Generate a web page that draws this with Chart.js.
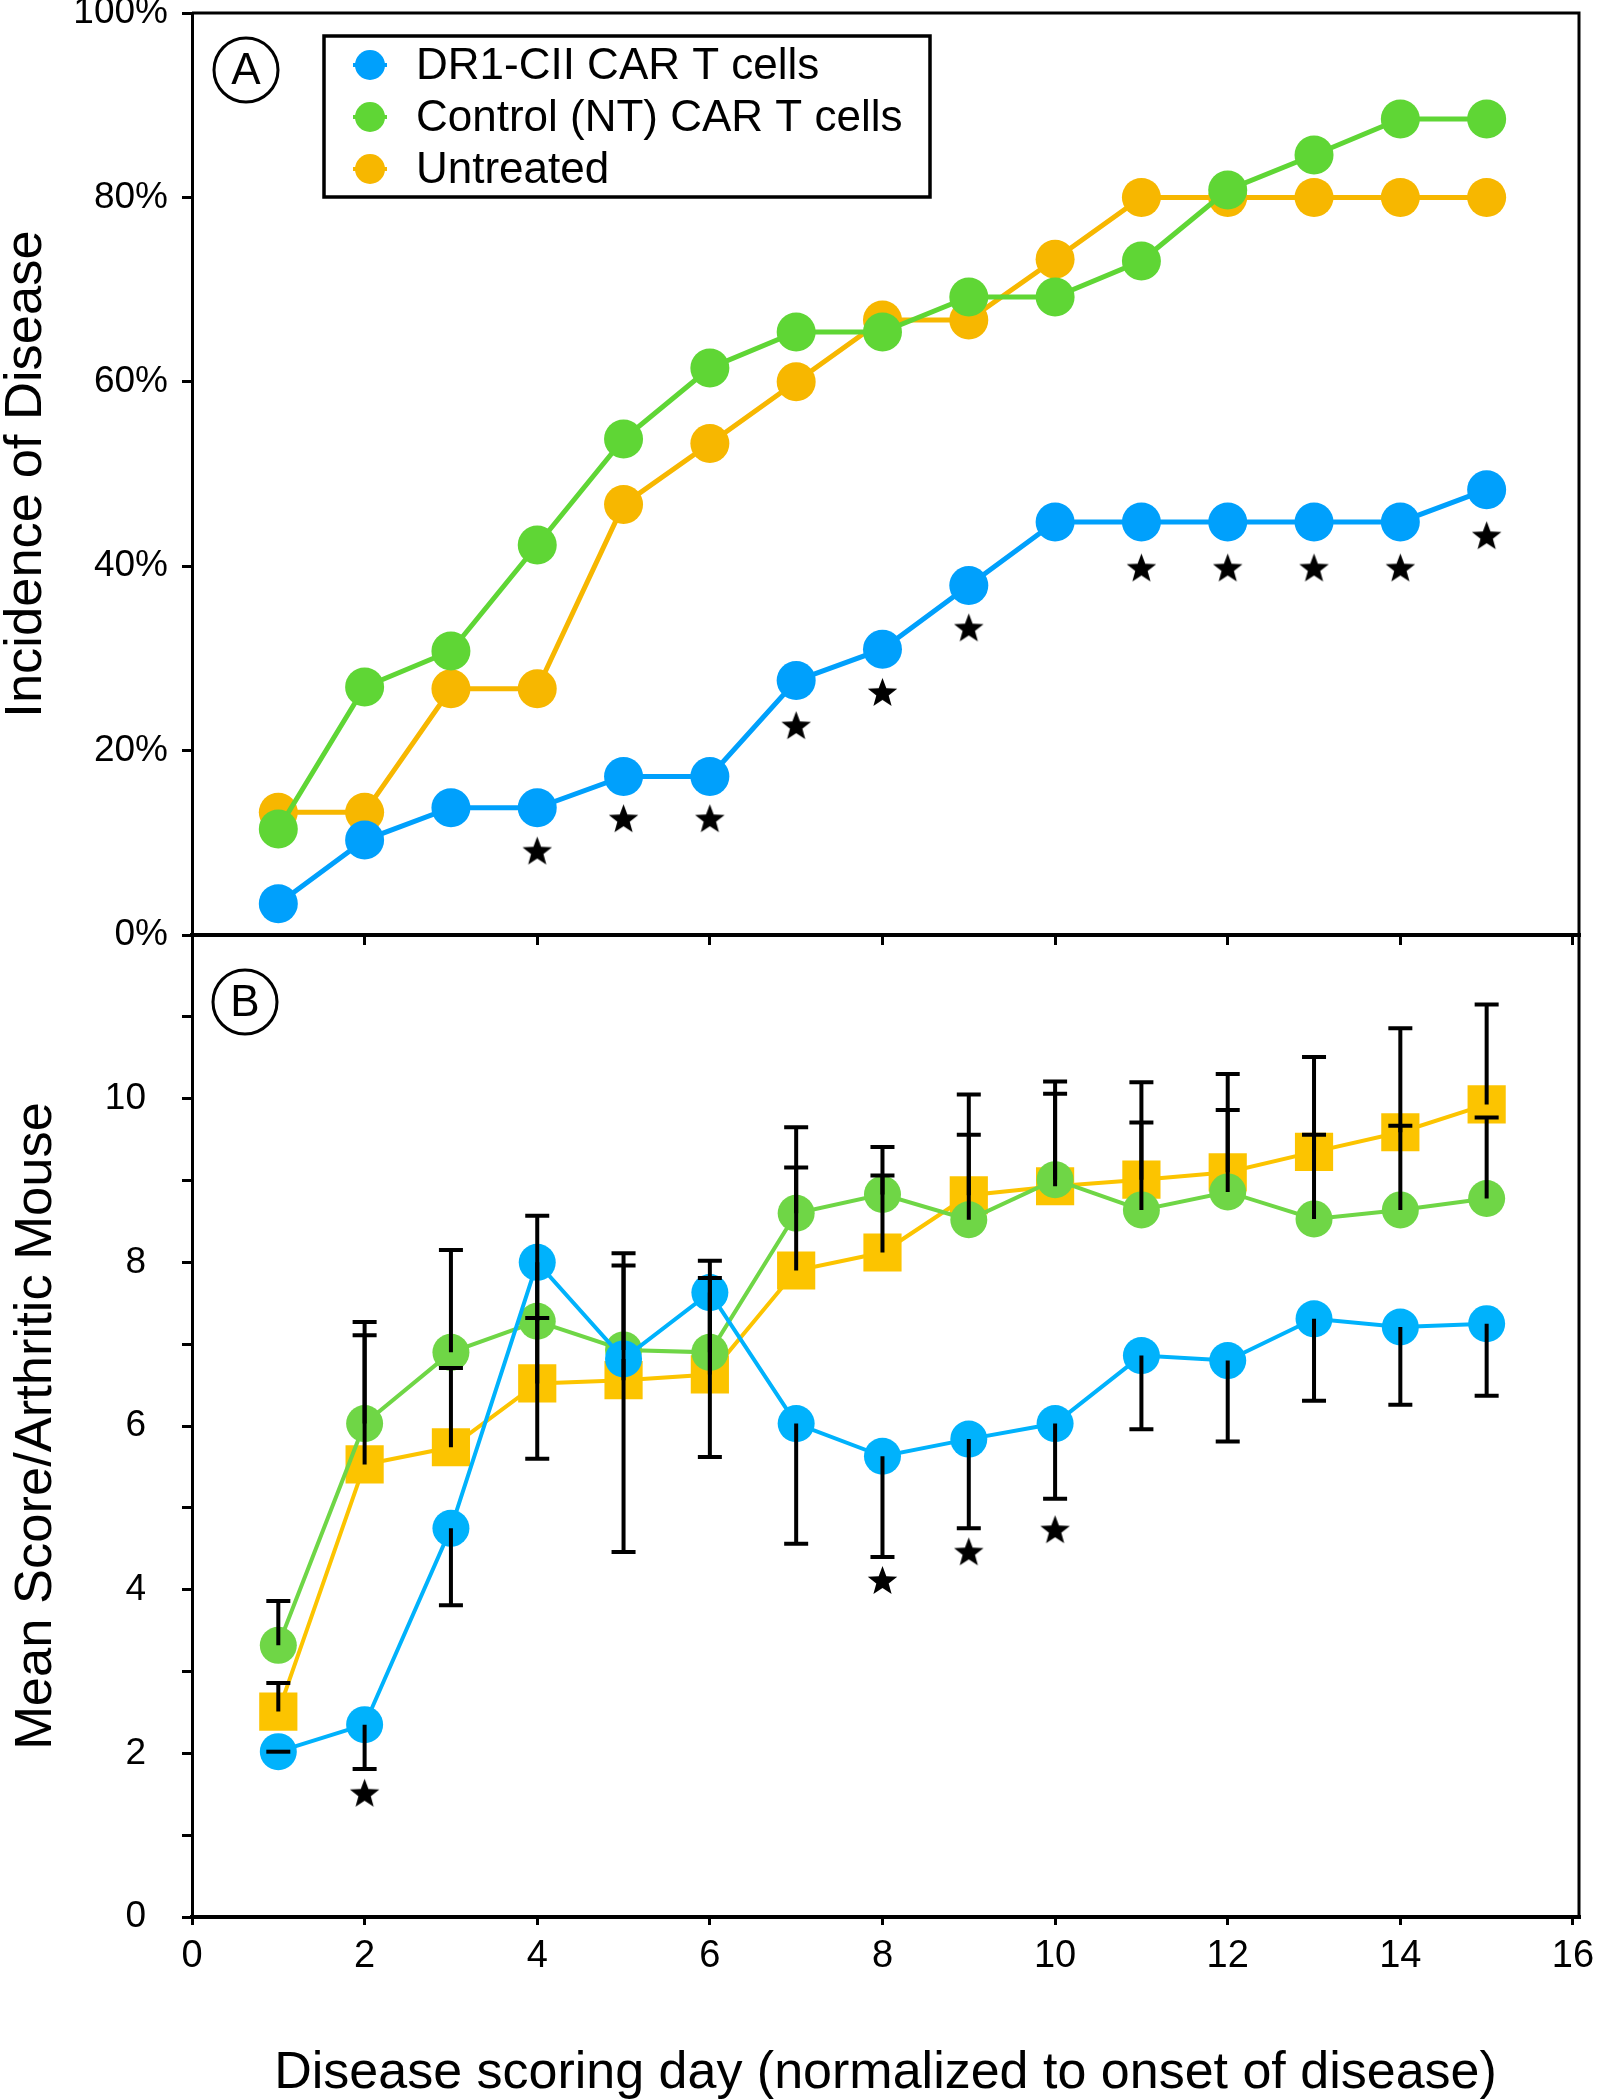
<!DOCTYPE html>
<html>
<head>
<meta charset="utf-8">
<script src="https://cdn.jsdelivr.net/npm/chart.js@4.4.1/dist/chart.umd.min.js"></script>
<style>
    html, body { margin: 0; padding: 0; background: #fff; }
    #wrap { position: relative; width: 1603px; height: 2100px; overflow: hidden; }
    #wrap canvas { position: absolute; left: 0; }
    #chartA { top: 0; }
    #chartB { top: 920px; }
</style>
</head>
<body>
<div id="wrap">
    <canvas id="chartA" width="1603" height="980"></canvas>
    <canvas id="chartB" width="1603" height="1180"></canvas>
</div>
<script>
// ===============================
// DATA
// ===============================
const seriesNames = ["DR1-CII CAR T cells", "Control (NT) CAR T cells", "Untreated"];
const days = [1, 2, 3, 4, 5, 6, 7, 8, 9, 10, 11, 12, 13, 14, 15];

// Panel A - incidence of disease (%)
const incDR1       = [3.4, 10.3, 13.8, 13.8, 17.2, 17.2, 27.6, 31.0, 37.9, 44.8, 44.8, 44.8, 44.8, 44.8, 48.3];
const incControl   = [11.5, 26.9, 30.8, 42.3, 53.8, 61.5, 65.4, 65.4, 69.2, 69.2, 73.1, 80.8, 84.6, 88.5, 88.5];
const incUntreated = [13.3, 13.3, 26.7, 26.7, 46.7, 53.3, 60.0, 66.7, 66.7, 73.3, 80.0, 80.0, 80.0, 80.0, 80.0];
const starDaysA = [4, 5, 6, 7, 8, 9, 11, 12, 13, 14, 15];
const starValsA = [9.0, 12.5, 12.5, 22.6, 26.2, 33.2, 39.7, 39.7, 39.7, 39.7, 43.2];

// Panel B - mean score / arthritic mouse (+ error bar length)
const scoreDR1       = [2.02, 2.35, 4.75, 8.00, 6.82, 7.63, 6.03, 5.63, 5.84, 6.03, 6.86, 6.80, 7.31, 7.21, 7.25];
const errDR1         = [0.00, 0.54, 0.94, 2.40, 2.36, 2.01, 1.47, 1.23, 1.09, 0.92, 0.90, 0.99, 1.00, 0.95, 0.88];
const scoreControl   = [3.32, 6.03, 6.90, 7.28, 6.93, 6.90, 8.60, 8.83, 8.52, 9.01, 8.64, 8.86, 8.53, 8.64, 8.78];
const errControl     = [0.54, 1.24, 1.25, 1.29, 1.18, 1.12, 1.05, 0.58, 1.04, 1.20, 1.07, 1.00, 1.03, 1.03, 0.99];
const scoreUntreated = [2.51, 5.53, 5.74, 6.52, 6.56, 6.63, 7.90, 8.12, 8.82, 8.93, 9.01, 9.10, 9.35, 9.59, 9.93];
const errUntreated   = [0.35, 1.58, 0.97, 0.80, 1.40, 1.18, 1.26, 0.94, 1.23, 1.13, 1.19, 1.20, 1.16, 1.27, 1.22];
const starDaysB = [2, 8, 9, 10];
const starValsB = [1.50, 4.10, 4.45, 4.72];

// Ticks
const xTicks = [0, 2, 4, 6, 8, 10, 12, 14, 16];
const pctTicks = [0, 20, 40, 60, 80, 100];
const scoreTicks = [0, 1, 2, 3, 4, 5, 6, 7, 8, 9, 10, 11];

// ===============================
// HELPERS
// ===============================
const FONT = "'Liberation Sans', Arial, Helvetica, sans-serif";
Chart.defaults.font.family = FONT;
Chart.defaults.color = "#000";

const pts = (xs, ys) => xs.map((x, i) => ({ x: x, y: ys[i] }));

function makeStar(r) {
    const c = document.createElement("canvas");
    c.width = c.height = Math.ceil(r * 2 + 2);
    const g = c.getContext("2d");
    g.fillStyle = "#000";
    g.beginPath();
    for (let i = 0; i < 10; i++) {
        const rad = i % 2 === 0 ? r : r * 0.42;
        const a = -Math.PI / 2 + i * Math.PI / 5;
        const px = c.width / 2 + rad * Math.cos(a);
        const py = c.height / 2 + rad * Math.sin(a);
        if (i === 0) g.moveTo(px, py); else g.lineTo(px, py);
    }
    g.closePath();
    g.fill();
    return c;
}
const starImg = makeStar(15.5);

function tickGrid(len) {
    return { display: true, drawOnChartArea: false, drawTicks: true, tickLength: len, tickWidth: 3, lineWidth: 3, tickColor: "#000" };
}
const fixTicks = arr => scale => { scale.ticks = arr.map(v => ({ value: v })); };

// ===============================
// PLUGINS
// ===============================
const framePlugin = {
    id: "frame",
    afterDraw(chart, args, o) {
        const { ctx, chartArea: a } = chart;
        ctx.save();
        ctx.strokeStyle = "#000";
        ctx.lineWidth = 3;
        ctx.beginPath();
        ctx.moveTo(a.left, a.top);
        ctx.lineTo(a.right, a.top);
        ctx.lineTo(a.right, a.bottom);
        ctx.stroke();

        // circled panel letter
        if (o.letter) {
            const cx = a.left + o.dx, cy = a.top + o.dy;
            ctx.lineWidth = 3;
            ctx.beginPath();
            ctx.arc(cx, cy, 32, 0, Math.PI * 2);
            ctx.stroke();
            ctx.fillStyle = "#000";
            ctx.font = "44px " + FONT;
            ctx.textAlign = "center";
            ctx.textBaseline = "middle";
            ctx.fillText(o.letter, cx, cy + 2);
        }
        ctx.restore();
    }
};

const errorBarPlugin = {
    id: "errorBars",
    afterDatasetsDraw(chart, args, o) {
        if (!o.bars) return;
        const { ctx } = chart;
        const xs = chart.scales.x, ys = chart.scales.y;
        ctx.save();
        ctx.strokeStyle = "#000";
        ctx.lineWidth = 4;
        o.bars.forEach(b => {
            b.err.forEach((e, i) => {
                const px = xs.getPixelForValue(days[i]);
                const p0 = ys.getPixelForValue(b.mean[i]);
                const p1 = ys.getPixelForValue(b.mean[i] + b.dir * e);
                ctx.beginPath();
                ctx.moveTo(px, p0);
                ctx.lineTo(px, p1);
                ctx.moveTo(px - 12, p1);
                ctx.lineTo(px + 12, p1);
                ctx.stroke();
            });
        });
        ctx.restore();
    }
};

const boxLegendPlugin = {
    id: "boxLegend",
    afterDraw(chart, args, o) {
        if (!o.display) return;
        const ctx = chart.ctx;
        ctx.save();
        ctx.fillStyle = "#fff";
        ctx.fillRect(o.left, o.top, o.width, o.height);
        ctx.lineWidth = 3.5;
        ctx.strokeStyle = "#000";
        ctx.strokeRect(o.left, o.top, o.width, o.height);
        ctx.font = "44px " + FONT;
        ctx.textBaseline = "middle";
        ctx.textAlign = "left";
        chart.data.datasets.filter(ds => !ds.isStar).forEach((ds, i) => {
            const cy = o.top + o.firstRow + i * o.rowGap;
            ctx.strokeStyle = ds.borderColor;
            ctx.lineWidth = 4;
            ctx.beginPath();
            ctx.moveTo(o.markerX - 17, cy);
            ctx.lineTo(o.markerX + 17, cy);
            ctx.stroke();
            ctx.fillStyle = ds.pointBackgroundColor;
            ctx.beginPath();
            ctx.arc(o.markerX, cy, 15, 0, Math.PI * 2);
            ctx.fill();
            ctx.fillStyle = "#000";
            ctx.fillText(ds.label, o.textX, cy + 2);
        });
        ctx.restore();
    }
};

// ===============================
// DATASETS
// ===============================
function lineSet(label, data, color, radius, width, style) {
    return {
        label: label,
        data: data,
        borderColor: color,
        backgroundColor: color,
        pointBackgroundColor: color,
        pointBorderWidth: 0,
        pointRadius: radius,
        pointStyle: style || "circle",
        borderWidth: width,
        tension: 0,
        fill: false
    };
}

function starSet(data) {
    return {
        isStar: true,
        label: "p<0.05",
        data: data,
        showLine: false,
        pointStyle: starImg,
        pointRadius: 16,
        borderColor: "#000",
        backgroundColor: "#000",
        order: -1
    };
}

// ===============================
// CHART A - INCIDENCE
// ===============================
const colA = { blue: "#00A0FC", green: "#5FD635", orange: "#F7B700" };

new Chart(document.getElementById("chartA"), {
    type: "line",
    data: {
        datasets: [
            lineSet(seriesNames[0], pts(days, incDR1), colA.blue, 19.5, 5),
            lineSet(seriesNames[1], pts(days, incControl), colA.green, 19.5, 5),
            lineSet(seriesNames[2], pts(days, incUntreated), colA.orange, 19.5, 5),
            starSet(pts(starDaysA, starValsA))
        ]
    },
    options: {
        responsive: false,
        animation: false,
        devicePixelRatio: 1,
        layout: { autoPadding: false, padding: { top: 13, right: 24, left: 0, bottom: 0 } },
        plugins: {
            legend: { display: false },
            tooltip: { enabled: false },
            frame: { letter: "A", dx: 54, dy: 57 },
            boxLegend: { display: true, left: 324, top: 36, width: 606, height: 161, markerX: 370, textX: 416, firstRow: 29, rowGap: 52 }
        },
        scales: {
            x: {
                type: "linear", min: 0, max: 16.07,
                afterBuildTicks: fixTicks(xTicks),
                afterFit: s => { s.height = 45; s.paddingLeft = 0; s.paddingRight = 0; },
                ticks: { callback: () => "", autoSkip: false },
                grid: tickGrid(10),
                border: { display: true, color: "#000", width: 4 }
            },
            y: {
                type: "linear", min: 0, max: 100,
                afterBuildTicks: fixTicks(pctTicks),
                afterFit: s => { s.width = 192; s.paddingTop = 0; s.paddingBottom = 0; },
                ticks: { callback: v => v + "%", font: { size: 37 }, padding: 14, color: "#000" },
                grid: tickGrid(10),
                border: { display: true, color: "#000", width: 3 },
                title: { display: true, text: "Incidence of Disease", color: "#000", font: { size: 52.5, lineHeight: 1 }, padding: { top: 0, bottom: 0 } }
            }
        }
    },
    plugins: [framePlugin, boxLegendPlugin]
});

// ===============================
// CHART B - MEAN SCORE
// ===============================
const colB = { blue: "#00B2FC", green: "#6FD646", orange: "#FCC400" };

new Chart(document.getElementById("chartB"), {
    type: "line",
    data: {
        datasets: [
            lineSet(seriesNames[0], pts(days, scoreDR1), colB.blue, 18.5, 4),
            lineSet(seriesNames[1], pts(days, scoreControl), colB.green, 18.5, 4),
            lineSet(seriesNames[2], pts(days, scoreUntreated), colB.orange, 27, 4, "rect"),
            starSet(pts(starDaysB, starValsB))
        ]
    },
    options: {
        responsive: false,
        animation: false,
        devicePixelRatio: 1,
        layout: { autoPadding: false, padding: { top: 15, right: 24, left: 0, bottom: 0 } },
        plugins: {
            legend: { display: false },
            tooltip: { enabled: false },
            frame: { letter: "B", dx: 53, dy: 67 },
            errorBars: {
                bars: [
                    { mean: scoreDR1, err: errDR1, dir: -1 },
                    { mean: scoreControl, err: errControl, dir: 1 },
                    { mean: scoreUntreated, err: errUntreated, dir: 1 }
                ]
            }
        },
        scales: {
            x: {
                type: "linear", min: 0, max: 16.07,
                afterBuildTicks: fixTicks(xTicks),
                afterFit: s => { s.height = 183; s.paddingLeft = 0; s.paddingRight = 0; },
                ticks: { font: { size: 38 }, padding: 9, autoSkip: false, maxRotation: 0, color: "#000" },
                grid: tickGrid(8),
                border: { display: true, color: "#000", width: 4 },
                title: { display: true, text: "Disease scoring day (normalized to onset of disease)", color: "#000", font: { size: 52, lineHeight: 1 }, padding: { top: 0, bottom: 0 } }
            },
            y: {
                type: "linear", min: 0, max: 12,
                afterBuildTicks: fixTicks(scoreTicks),
                afterFit: s => { s.width = 192; s.paddingTop = 0; s.paddingBottom = 0; },
                ticks: { callback: v => (v % 2 === 0 ? String(v) : ""), font: { size: 37 }, padding: 36, color: "#000" },
                grid: tickGrid(10),
                border: { display: true, color: "#000", width: 3 },
                title: { display: true, text: "Mean Score/Arthritic Mouse", color: "#000", font: { size: 52.5, lineHeight: 1 }, padding: { top: 10, bottom: 0 } }
            }
        }
    },
    plugins: [framePlugin, errorBarPlugin]
});
</script>
</body>
</html>
